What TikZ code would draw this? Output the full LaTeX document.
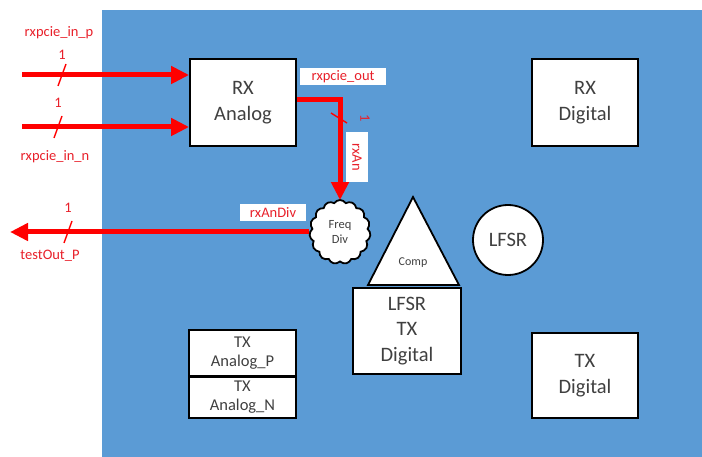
\documentclass[tikz,border=0pt]{standalone}
\usepackage{fontspec}
\setmainfont{Carlito}
\usetikzlibrary{shapes.symbols,shapes.geometric,arrows.meta}
\definecolor{chip}{HTML}{5B9BD5}
\definecolor{wire}{HTML}{FF0000}
\definecolor{wiretext}{HTML}{E8202A}
\definecolor{boxtext}{HTML}{404040}

\begin{document}
\begin{tikzpicture}[x=1pt,y=-1pt,
  blk/.style={draw=black,line width=1.8pt,fill=white,text=boxtext,align=center,inner sep=0pt,
    font=\fontsize{20.5}{25.5}\selectfont},
  smallblk/.style={blk,font=\fontsize{16.5}{19}\selectfont},
  sig/.style={draw=wire,line width=5pt,-{Triangle[length=18pt,width=17pt]}},
  tick/.style={draw=wire,line width=1.4pt},
  wlbl/.style={text=wiretext,font=\fontsize{14.5}{16}\selectfont,inner sep=0pt},
  tagbox/.style={fill=white,text=wiretext,font=\fontsize{14.5}{16}\selectfont,inner sep=0pt,
    minimum height=17pt}]
\useasboundingbox (0,0) rectangle (702,457);

% chip outline
\fill[chip] (102,10) rectangle (702,457);

% blocks
\node[blk,minimum width=106pt,minimum height=87pt] (rxa) at (243,102.5) {RX\\Analog};
\node[blk,minimum width=106pt,minimum height=87pt] (rxd) at (585,102.5) {RX\\Digital};
\node[blk,minimum width=108pt,minimum height=86pt] (ltx) at (407,331) {LFSR\\TX\\Digital};
\node[smallblk,minimum width=107pt,minimum height=46pt] (txp) at (242.5,353) {TX\\Analog\_P};
\node[smallblk,minimum width=107pt,minimum height=41pt] (txn) at (242.5,397.5) {TX\\Analog\_N};
\node[blk,minimum width=106pt,minimum height=85pt] (txd) at (585,375.5) {TX\\Digital};
\node[blk,circle,minimum size=70pt] (lfsr) at (508,240) {LFSR};

% comparator
\draw[line width=1.8pt,fill=white] (413,197) -- (459,285) -- (368,285) -- cycle;
\node[text=boxtext,font=\fontsize{12}{14}\selectfont] (comp) at (413,263) {Comp};

% frequency divider
\node[cloud,cloud puffs=15,cloud puff arc=115,draw=black,line width=1.8pt,fill=white,
  minimum width=61pt,minimum height=64pt,inner sep=0pt,align=center,text=boxtext,
  font=\fontsize{12.5}{15}\selectfont] (fd) at (340,232) {Freq\\Div};

% input and output ends
\coordinate (inp) at (22,75);
\coordinate (inn) at (22,127);
\coordinate (tout) at (10,232);

% signals
\draw[sig] (inp) -- (inp -| rxa.west);
\draw[sig] (inn) -- (inn -| rxa.west);
\draw[sig,shorten >=-1pt] (rxa.east |- 0,100) -| (fd.north);
\draw[sig] (fd.west |- tout) -- (tout);

% bus width ticks
\draw[tick] (58,86) -- (66,64);
\draw[tick] (54,138) -- (62,116);
\draw[tick] (64,243) -- (72,221);
\draw[tick] (331,113) -- (347,123);

% wire labels
\node[wlbl] (lp) at (59,33) {rxpcie\_in\_p};
\node[wlbl] (lp1) at (62,55) {1};
\node[wlbl] (ln1) at (58,103) {1};
\node[wlbl] (ln) at (55,157) {rxpcie\_in\_n};
\node[wlbl] (lo1) at (68,208) {1};
\node[wlbl] (lo) at (50,256) {testOut\_P};
\node[wlbl,rotate=-90] (la1) at (365,118) {1};
\node[tagbox,minimum width=86pt] (tout1) at (343,76.5) {rxpcie\_out};
\node[tagbox,minimum width=66pt] (tdiv) at (273,213) {rxAnDiv};
\node[tagbox,minimum width=50pt,minimum height=22pt,rotate=-90] (tan) at (357,157) {rxAn};
\end{tikzpicture}
\end{document}
